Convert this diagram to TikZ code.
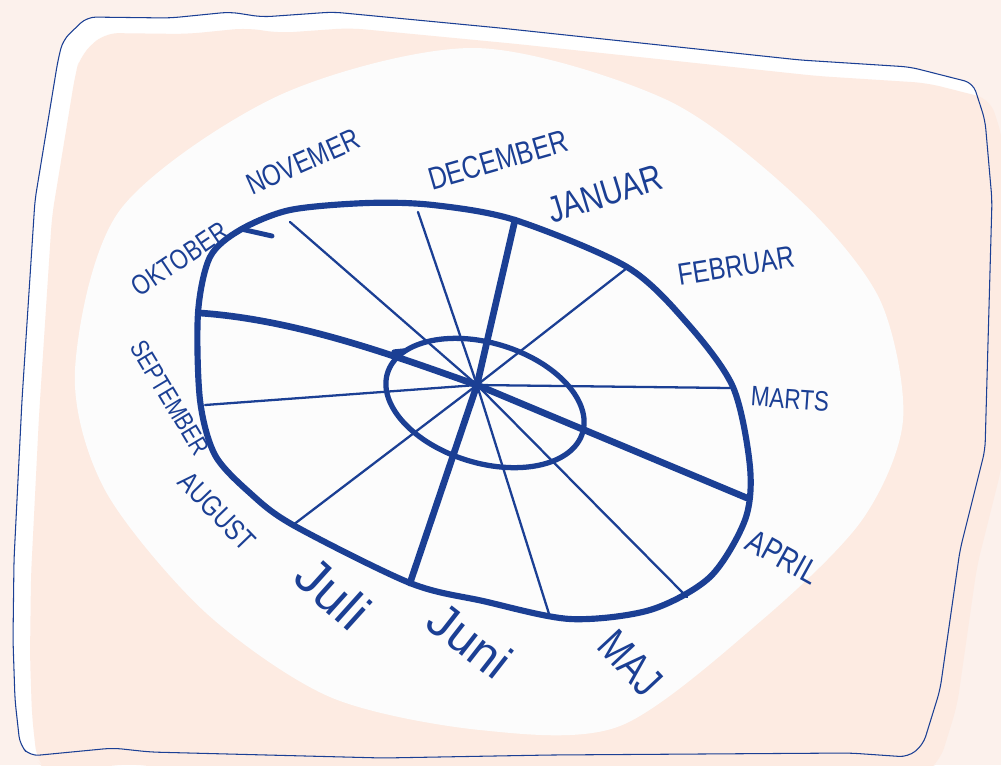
\documentclass[tikz,border=0pt]{standalone}
\usepackage{fontspec}
\setmainfont{Liberation Sans}
\usetikzlibrary{calc}
\definecolor{ink}{HTML}{1B3F94}
\definecolor{paper}{HTML}{FCF1EC}
\definecolor{peach}{HTML}{FDEBE2}
\definecolor{plate}{HTML}{FCFCFC}
\newcommand{\msize}[1]{\fontsize{#1}{#1}\selectfont}

\begin{document}
\begin{tikzpicture}[x=0.02cm, y=-0.02cm, line cap=round, line join=round,
  rim/.style={draw=ink, line width=3.5pt},
  axis/.style={draw=ink, line width=3.8pt},
  spoke/.style={draw=ink, line width=1.3pt},
  ring/.style={draw=ink, line width=3pt},
  month/.style={text=ink, inner sep=0pt, rotate=#1, xscale=0.8},
  script/.style={text=ink, inner sep=0pt, rotate=#1}]

  \fill[paper] (0,0) rectangle (1001,765);
  \useasboundingbox (0,0) rectangle (1001,765);

  % sheet with shadow
  \def\sheet{(30,756) -- (20,745) -- (15,700) -- (13,640) -- (14,560) -- (22,400) -- (35,200) -- (58,60)
    -- (63,40) -- (87,17) -- (170,18) -- (230,12) -- (262,17) -- (333,12) -- (500,28) -- (800,60)
    -- (910,67) -- (973,83) -- (985,120) -- (992,200) -- (985,450) -- (960,550) -- (940,690)
    -- (923,745) -- (908,757) -- (850,753) -- (550,755) -- (383,758) -- (150,752) -- (113,748) -- cycle}
  \fill[white, rounded corners=5pt] \sheet;
  \fill[peach, rounded corners=8pt, shift={(17,16)}] \sheet;
  \draw[ink, line width=0.6pt, rounded corners=5pt] \sheet;

  % plate
  \fill[plate] plot[smooth cycle] coordinates {(475,48) (667,100) (800,200) (880,300) (903,420)
    (862,520) (762,620) (620,726) (480,730) (330,697) (205,612) (105,490) (75,370) (120,210) (280,95)};

  \coordinate (hub) at (477,385);
  \coordinate (s1) at (515,220);
  \coordinate (s2) at (627,268);
  \coordinate (s3) at (730,388);
  \coordinate (s4) at (747,498);
  \coordinate (s5) at (687,597);
  \coordinate (s6) at (550,617);
  \coordinate (s7) at (410,583);
  \coordinate (s8) at (293,525);
  \coordinate (s9) at (205,405);
  \coordinate (s10) at (200,313);
  \coordinate (s11) at (290,222);
  \coordinate (s12) at (418,212);

  % thin spokes
  \foreach \s in {s2,s3,s5,s6,s8,s9,s11,s12}
    \draw[spoke] (hub) -- (\s);

  % thick axes
  \draw[axis] (s1) -- (hub) -- (s7);
  \draw[axis] (s10) .. controls (300,320) and (400,358) .. (hub) -- (s4);

  % inner ring
  \draw[ring, rotate around={-17:(485,403)}] (485,403) ellipse [x radius=2.04cm, y radius=1.2cm];
  \draw[ring] (394,352) -- (404,351);

  % outer rim
  \draw[rim] plot[smooth cycle] coordinates {(240,230) (290,210) (367,203) (433,205) (515,220)
    (627,267) (687,323) (733,387) (750,467) (745,520) (710,577) (650,610) (570,619) (483,601)
    (410,583) (293,525) (250,493) (215,455) (200,400) (198,313) (210,257)};
  \draw[rim, line width=2.8pt] (241,229) -- (272,236);

  % months
  \node[month=16, font=\msize{18}] (dec) at (498,160) {DECEMBER};
  \node[month=17, font=\msize{21}] (jan) at (605,194) {JANUAR};
  \node[month=9, font=\msize{17.5}] (feb) at (736,266) {FEBRUAR};
  \node[month=-4, font=\msize{16}] (mar) at (790,399) {MARTS};
  \node[month=-29, font=\msize{19}] (apr) at (783,557) {APRIL};
  \node[month=-47, font=\msize{25}] (may) at (630,663) {MAJ};
  \node[script=-38, font=\msize{28}] (jun) at (470,640) {Juni};
  \node[script=-42, font=\msize{30}] (jul) at (333,593) {Juli};
  \node[month=-46, font=\msize{16.5}] (aug) at (217,511) {AUGUST};
  \node[month=-59, font=\msize{14.8}] (sep) at (170,398) {SEPTEMBER};
  \node[month=34, font=\msize{16}] (oct) at (180,259) {OKTOBER};
  \node[month=24, font=\msize{17}] (nov) at (303,162) {NOVEMER};
\end{tikzpicture}
\end{document}
